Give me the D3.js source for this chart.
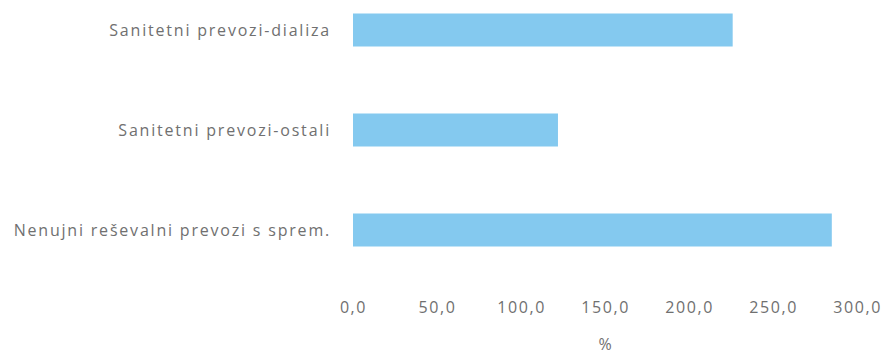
<!DOCTYPE html>
<html>
<head>
<meta charset="utf-8">
<script src="https://cdn.jsdelivr.net/npm/d3@7"></script>
<style>
  body { margin: 0; background: #fff; }
  text { font-family: "Open Sans", sans-serif; fill: #707070; }
</style>
</head>
<body>
<svg id="chart" width="887" height="356"></svg>
<script>

// Data.
var categories = [
  'Sanitetni prevozi-dializa',
  'Sanitetni prevozi-ostali',
  'Nenujni reševalni prevozi s sprem.'
];
var values = [226, 122, 285];
var tickValues = [0, 50, 100, 150, 200, 250, 300];
var axisTitle = '%';

// Layout.
var svg = d3.select('#chart');
var x = d3.scaleLinear().domain([0, 300]).range([353, 857]);
var y = d3.scaleBand().domain(categories).range([-20, 280])
  .paddingInner(0.67).paddingOuter(0.335);

// Bars.
svg.selectAll('rect.bar')
  .data(categories)
  .enter().append('rect')
  .attr('class', 'bar')
  .attr('x', x(0))
  .attr('y', function(d) { return y(d); })
  .attr('width', function(d, i) { return x(values[i]) - x(0); })
  .attr('height', y.bandwidth())
  .attr('fill', '#84c9ef');

// Category labels.
svg.selectAll('text.cat')
  .data(categories)
  .enter().append('text')
  .attr('class', 'cat')
  .attr('x', 331)
  .attr('y', function(d) { return y(d) + y.bandwidth() / 2; })
  .attr('dy', '0.35em')
  .attr('text-anchor', 'end')
  .style('font-size', '16px')
  .style('letter-spacing', '1.8px')
  .text(function(d) { return d; });

// X axis.
var axis = d3.axisBottom(x)
  .tickValues(tickValues)
  .tickSize(0)
  .tickPadding(0)
  .tickFormat(function(d) { return d3.format('.1f')(d).replace('.', ','); });

var g = svg.append('g')
  .attr('transform', 'translate(0,302)')
  .call(axis);
g.select('.domain').remove();
g.selectAll('text')
  .attr('dy', '0.71em')
  .style('font-size', '16px')
  .style('letter-spacing', '1.6px')
  .style('font-family', '"Open Sans", sans-serif')
  .attr('fill', '#707070');

// Axis title.
svg.append('text')
  .attr('x', (x(0) + x(300)) / 2)
  .attr('y', 350)
  .attr('text-anchor', 'middle')
  .style('font-size', '16px')
  .text(axisTitle);

</script>
</body>
</html>
